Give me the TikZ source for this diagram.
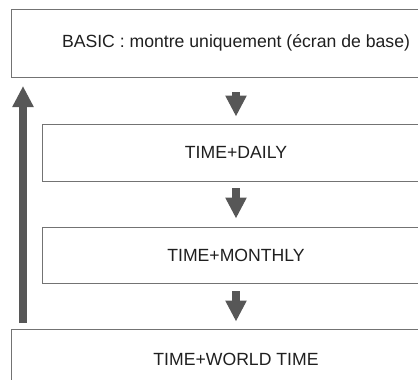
\documentclass[tikz,border=0pt]{standalone}
\usepackage{fontspec}
\setmainfont{Liberation Sans}
\usetikzlibrary{arrows.meta}
\definecolor{arrowgray}{HTML}{575757}
\definecolor{framegray}{HTML}{737373}
\begin{document}
\begin{tikzpicture}[%
        x = 1bp,
        y = -1bp,
        font = \fontsize{17.7}{20}\selectfont,
        modebox/.style = {%
            draw = framegray,
            line width = 0.9bp,
            text = black!88,
            inner sep = 0pt
        },
        fatarrow/.style = {%
            draw = arrowgray,
            line width = 7.5bp,
            -{Triangle[width = 20bp, length = 21bp]}
        }
    ]
        \useasboundingbox (0, 0) rectangle (418, 380);
        \clip (0, 0) rectangle (418, 380);
        \node[modebox, minimum width = 450bp, minimum height = 68bp] (basic) at (236, 43)
            {BASIC : montre uniquement (écran de base)};
        \node[modebox, minimum width = 388bp, minimum height = 57bp] (daily) at (236, 152.5)
            {TIME+DAILY};
        \node[modebox, minimum width = 388bp, minimum height = 56bp] (monthly) at (236, 255)
            {TIME+MONTHLY};
        \node[modebox, minimum width = 450bp, minimum height = 61bp] (world) at (236, 359.5)
            {TIME+WORLD TIME};
        \draw[fatarrow, shorten < = 15bp, shorten > = 7bp] (basic) -- (daily);
        \draw[fatarrow, shorten < = 7bp, shorten > = 8bp] (daily) -- (monthly);
        \draw[fatarrow, shorten < = 8bp, shorten > = 7bp] (monthly) -- (world);
        % back to the start
        \coordinate (loopstart) at (23, 329);
        \coordinate (loopend) at (23, 77);
        \draw[fatarrow, line width = 8bp, shorten < = 6bp, shorten > = 9bp] (loopstart) -- (loopend);
    \end{tikzpicture}
\end{document}
